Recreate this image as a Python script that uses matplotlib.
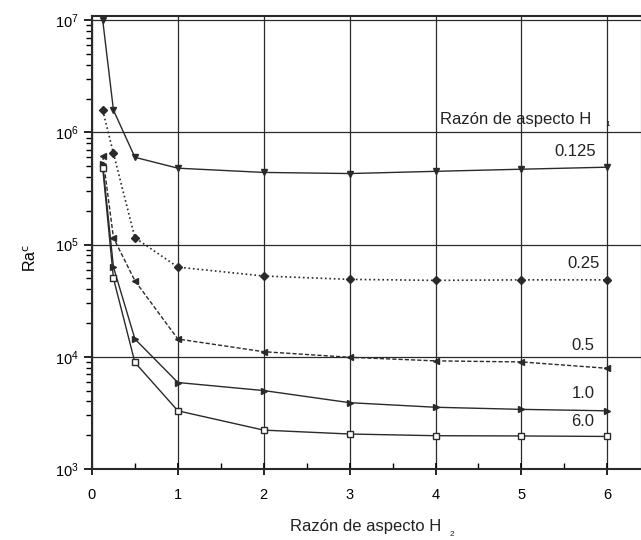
import matplotlib
matplotlib.use("Agg")
import matplotlib.pyplot as plt
from matplotlib.ticker import LogLocator, NullFormatter, MultipleLocator

plt.rcParams['font.family'] = ['Liberation Sans', 'DejaVu Sans']

# aspect ratio H2 (x) and critical Rayleigh number for each H1 curve
h2 = [0.125, 0.25, 0.5, 1, 2, 3, 4, 5, 6]
ra_0125 = [1.0e7, 1.58e6, 6.0e5, 4.8e5, 4.4e5, 4.3e5, 4.5e5, 4.7e5, 4.9e5]
ra_025 = [1.58e6, 6.5e5, 1.15e5, 6.3e4, 5.25e4, 4.9e4, 4.8e4, 4.85e4, 4.85e4]
ra_05 = [6.2e5, 1.15e5, 4.76e4, 1.44e4, 1.11e4, 9.9e3, 9.2e3, 9.0e3, 7.9e3]
ra_10 = [5.2e5, 6.3e4, 1.44e4, 5.9e3, 5.0e3, 3.9e3, 3.55e3, 3.4e3, 3.3e3]
ra_60 = [4.8e5, 5.0e4, 8.9e3, 3.3e3, 2.22e3, 2.05e3, 1.98e3, 1.97e3, 1.95e3]

curve_labels = ['0.125', '0.25', '0.5', '1.0', '6.0']
label_pos = [(5.63, 6.7e5), (5.72, 6.8e4), (5.72, 1.27e4), (5.72, 4.75e3), (5.71, 2.64e3)]

fig = plt.figure(figsize=(6.41, 5.40), dpi=100)
ax = fig.add_axes([0.1435, 0.1315, 0.8575, 0.8385])

col = '#2a2a2a'
ax.plot(h2, ra_0125, '-', color=col, lw=1.0, marker='v', ms=5)
ax.plot(h2, ra_025, ':', color=col, lw=1.2, marker='D', ms=4)
ax.plot(h2, ra_05, color=col, lw=1.0, ls=(0, (3, 1.5)), marker='<', ms=5)
ax.plot(h2, ra_10, '-', color=col, lw=1.0, marker='>', ms=5)
ax.plot(h2, ra_60, '-', color=col, lw=1.0, marker='s', ms=4.5, mfc='white')

for txt, (xx, yy) in zip(curve_labels, label_pos):
    ax.text(xx, yy, txt, fontsize=12, ha='center', va='center', color='#222')

ax.text(4.93, 1.3e6, 'Razón de aspecto H', fontsize=12, ha='center', va='center', color='#222')
ax.text(6.0, 1.17e6, '1', fontsize=6, ha='center', va='center', color='#222')

ax.set_yscale('log')
ax.set_xlim(0, 6.4)
ax.set_ylim(1e3, 10**7.036)
ax.xaxis.set_major_locator(MultipleLocator(1))
ax.xaxis.set_minor_locator(MultipleLocator(0.5))
ax.yaxis.set_major_locator(LogLocator(base=10, numticks=10))
ax.yaxis.set_minor_locator(LogLocator(base=10, subs=range(2, 10), numticks=20))
ax.yaxis.set_minor_formatter(NullFormatter())

ax.grid(True, which='major', color=col, lw=0.9)
ax.tick_params(axis='x', which='major', direction='inout', length=8, width=1.2, labelsize=10.5, pad=10)
ax.tick_params(axis='x', which='minor', direction='in', length=4, width=1.0)
ax.tick_params(axis='y', which='major', direction='out', length=6, width=1.2, labelsize=10.5)
ax.tick_params(axis='y', which='minor', direction='out', length=4, width=1.0)
for s in ax.spines.values():
    s.set_linewidth(1.5)
    s.set_color(col)

ax.set_ylabel('Ra$^{\\rm c}$', fontsize=11.5)
ax.yaxis.set_label_coords(-0.097, 0.466)
fig.text(366 / 641, 1 - 526 / 540, 'Razón de aspecto H', fontsize=12, ha='center', va='center', color='#222')
fig.text(452 / 641, 1 - 535 / 540, '2', fontsize=6, ha='center', va='center', color='#222')

fig.savefig('out.png', dpi=100)
